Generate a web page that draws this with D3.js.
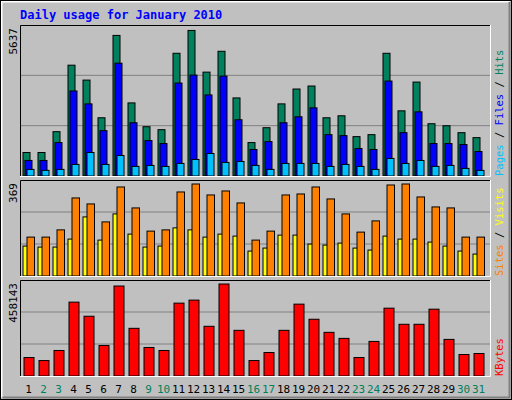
<!DOCTYPE html><html><head><meta charset="utf-8">
<script src="https://cdn.jsdelivr.net/npm/d3@7"></script>
<style>body{margin:0;background:#fff}</style></head><body>
<script>
const days = d3.range(1, 32);
const weekend = [2,3,9,10,16,17,23,24,30,31];
const hits  = [910,910,1717,4292,3715,2255,5445,2831,1909,1794,4753,5637,4023,4830,3024,1294,1870,2793,3369,3485,2255,2332,1525,1601,4753,2524,3638,2024,1947,1678,1486];
const files = [602,602,1294,3293,2793,1755,4369,2063,1371,1256,3600,3908,3139,3869,2178,1025,1332,2063,2293,2639,1601,1563,1063,1025,3677,1678,2485,1256,1256,1217,948];
const pages = [256,218,256,448,910,448,794,372,410,372,487,641,871,525,564,410,256,487,487,487,372,448,372,256,679,487,602,372,410,295,218];
const visits= [156,156,185,313,289,217,357,273,180,185,337,369,325,341,293,144,180,325,329,357,309,249,176,221,365,369,317,277,273,156,156];
const sites = [120,116,116,148,237,144,249,168,116,120,193,185,156,168,160,100,112,164,164,128,124,132,112,104,160,148,148,136,120,100,88];
const kbytes= [91966,76916,127078,367862,297633,152158,448118,237432,142126,127078,362846,377894,247463,458143,227400,76916,117045,227400,357829,282584,217368,187271,91966,172222,337764,257496,257496,332748,182255,107013,112028];

const W=512,H=400, X0=20, X1=490;
const svg=d3.select("body").append("svg").attr("width",W).attr("height",H);
const font="'DejaVu Sans Mono', monospace";
svg.append("rect").attr("x",0).attr("y",0).attr("width",W).attr("height",H).attr("fill","#C0C0C0");
svg.append("path").attr("d","M1.5,397.5V1.5H509.5").attr("stroke","#fff").attr("fill","none").attr("stroke-width",2);
svg.append("path").attr("d","M2.5,397.5H509.5V2").attr("stroke","#808080").attr("fill","none").attr("stroke-width",2);
svg.append("rect").attr("x",0.5).attr("y",0.5).attr("width",W-1).attr("height",H-1).attr("fill","none").attr("stroke","#000");

svg.append("text").attr("x",20).attr("y",19).attr("fill","#0000FF").attr("font-family",font).attr("font-weight","bold").attr("font-size",12).text("Daily usage for January 2010");

const x=d3.scaleBand().domain(days).range([X0+3,X0+3+15*31]).paddingInner(0);

function panel(top,bottom,maxv,maxLabel,series,labels){
  svg.append("rect").attr("x",X0).attr("y",top).attr("width",X1-X0).attr("height",bottom-top).attr("fill","#C0C0C0");
  const y=d3.scaleLinear().domain([0,maxv]).range([bottom,top+4]);
  const step=(bottom-top)/3;
  [1,2].forEach(k=>svg.append("line").attr("x1",X0).attr("x2",X1).attr("y1",bottom-k*step).attr("y2",bottom-k*step).attr("stroke","#808080"));
  series.forEach(s=>{
    svg.append("g").selectAll("rect").data(s.data).join("rect")
      .attr("x",(d,i)=>x(days[i])+s.off).attr("width",s.w)
      .attr("y",d=>y(d)).attr("height",d=>bottom-y(d))
      .attr("fill",s.color).attr("stroke","#000").attr("stroke-width",1);
  });
  svg.append("path").attr("d",`M${X0+.5},${bottom}V${top+.5}H${X1}`).attr("stroke","#000").attr("fill","none");
  svg.append("path").attr("d",`M${X1+.5},${top}V${bottom+.5}H${X0}`).attr("stroke","#fff").attr("fill","none");
  svg.append("text").attr("transform",`translate(17,${top+3}) rotate(-90)`).attr("text-anchor","end").attr("font-family",font).attr("font-size",11).attr("fill","#000").text(maxLabel);
  const t=svg.append("text").attr("transform",`translate(503,${bottom}) rotate(-90)`).attr("font-family",font).attr("font-size",10.5).attr("xml:space","preserve");
  labels.forEach((l,i)=>{ if(i>0) t.append("tspan").attr("fill","#000").text(" / "); t.append("tspan").attr("fill",l[1]).text(l[0]); });
}
panel(25,176,5637*1.01,"5637",[
  {data:hits,color:"#00805C",off:0,w:7},
  {data:files,color:"#0000FF",off:2,w:7},
  {data:pages,color:"#00C0FF",off:4,w:7}],
  [["Pages","#00C0FF"],["Files","#0000FF"],["Hits","#00805C"]]);
panel(180,276,369,"369",[
  {data:sites,color:"#FFFF00",off:0,w:5},
  {data:visits,color:"#FF8000",off:4,w:7.5}],
  [["Sites","#FF8000"],["Visits","#FFFF00"]]);
panel(280,376,458143,"458143",[
  {data:kbytes,color:"#FF0000",off:1,w:10}],
  [["KBytes","#FF0000"]]);

svg.append("g").selectAll("text").data(days).join("text")
  .attr("x",d=>x(d)+5.5).attr("y",393).attr("text-anchor","middle")
  .attr("font-family",font).attr("font-size",11)
  .attr("fill",d=>weekend.includes(d)?"#00805C":"#000").text(d=>d);
</script></body></html>
